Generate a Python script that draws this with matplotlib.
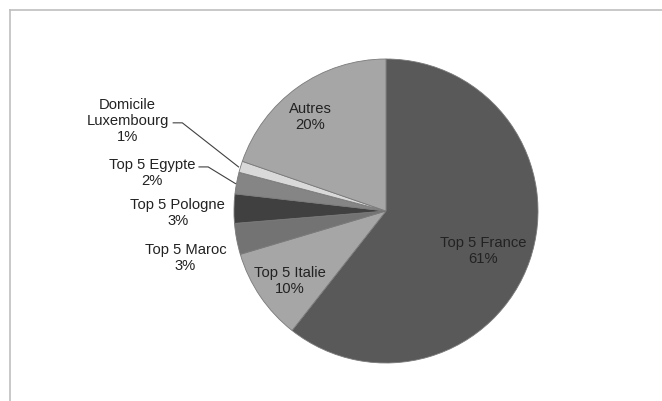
import matplotlib.pyplot as plt
from matplotlib.lines import Line2D

plt.rcParams['font.family'] = ['Liberation Sans', 'DejaVu Sans']

# données (part en %)
categories = ['Top 5 France', 'Top 5 Italie', 'Top 5 Maroc', 'Top 5 Pologne',
              'Top 5 Egypte', 'Domicile\nLuxembourg', 'Autres']
parts = [60.6, 9.8, 3.3, 3.1, 2.3, 1.2, 19.7]
couleurs = ['#595959', '#a6a6a6', '#737373', '#404040', '#858585', '#d9d9d9', '#a6a6a6']

fig = plt.figure(figsize=(6.62, 4.01), dpi=100)

# cadre gris (coupé à droite et en bas)
fig.add_artist(Line2D([10/662, 1], [1 - 10/401, 1 - 10/401], transform=fig.transFigure,
                      color='#bfbfbf', lw=1.2))
fig.add_artist(Line2D([10/662, 10/662], [0, 1 - 10/401], transform=fig.transFigure,
                      color='#bfbfbf', lw=1.2))

ax = fig.add_axes([234/662, 38/401, 304/662, 304/401])
wedges, _ = ax.pie(parts, colors=couleurs, startangle=90, counterclock=False,
                   radius=1, wedgeprops=dict(edgecolor='#7a7a7a', linewidth=0.6))
ax.set_xlim(-1, 1)
ax.set_ylim(-1, 1)
ax.set_aspect('equal')
ax.axis('off')

# positions des étiquettes (coordonnées du camembert)
pos = [(0.64, -0.26), (-0.63, -0.46), (-1.32, -0.31), (-1.37, -0.01),
       (-1.54, 0.25), (-1.70, 0.59), (-0.50, 0.62)]
for cat, p, (x, y) in zip(categories, parts, pos):
    ax.text(x, y, '%s\n%d%%' % (cat, round(p)), ha='center', va='center',
            fontsize=10.6, color='#222222', linespacing=1.18, clip_on=False)

# traits de rappel
ax.plot([-1.23, -1.17, -0.99], [0.29, 0.29, 0.18], color='#404040', lw=0.8, clip_on=False)
ax.plot([-1.40, -1.34, -0.97], [0.58, 0.58, 0.29], color='#404040', lw=0.8, clip_on=False)

fig.savefig('out.png', dpi=100)
